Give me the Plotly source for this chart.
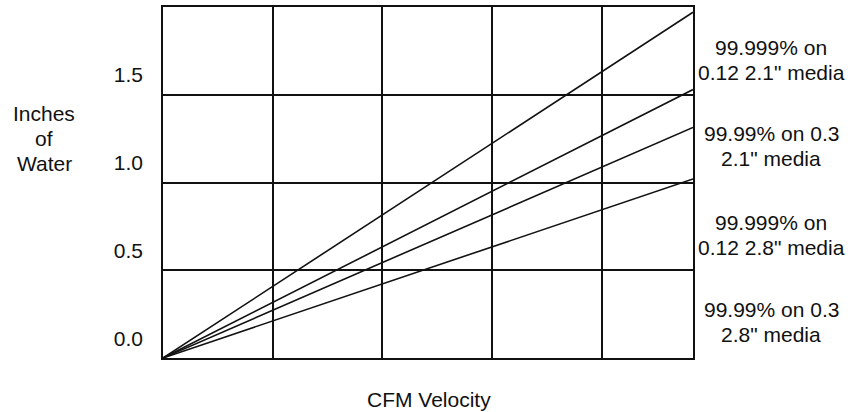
import plotly.graph_objects as go

# Data (x in grid cells; y in units where each grid cell = 0.5)
velocity = [0, 4.83]
series_lines = [
    ['99.999% on', '0.12 2.1" media'],
    ['99.99% on 0.3', '2.1" media'],
    ['99.999% on', '0.12 2.8" media'],
    ['99.99% on 0.3', '2.8" media'],
]
pressure = [
    [0, 1.97],
    [0, 1.53],
    [0, 1.314],
    [0, 1.02],
]
label_y = [1.70, 1.207, 0.70, 0.207]
ytick_vals = [0.0, 0.5, 1.0, 1.5]
ytick_text = ["0.0", "0.5", "1.0", "1.5"]
ylabel_lines = ["Inches", "of", "Water"]
xlabel = "CFM Velocity"

FONT = "Liberation Sans, Arial, sans-serif"
INK = "#111111"
FS = 21

fig = go.Figure()
for vals in pressure:
    fig.add_trace(go.Scatter(x=velocity, y=vals, mode="lines",
                             line=dict(color=INK, width=1.6),
                             showlegend=False, hoverinfo="skip"))

# invisible trace for the label axis
fig.add_trace(go.Scatter(x=[0], y=[0], yaxis="y2", mode="markers",
                         marker=dict(opacity=0), showlegend=False, hoverinfo="skip"))

for lines, ly in zip(series_lines, label_y):
    for i, t in enumerate(lines):
        fig.add_annotation(x=1.0, xref="paper", y=ly, yref="y", xshift=78,
                           yshift=12.5 - 25 * i,
                           text=t, showarrow=False, xanchor="center", yanchor="middle",
                           font=dict(family=FONT, size=FS, color=INK))

for i, t in enumerate(ylabel_lines):
    fig.add_annotation(x=0, xref="paper", y=1.252, yref="y", xshift=-119,
                       yshift=25 - 25 * i,
                       text=t, showarrow=False, xanchor="center", yanchor="middle",
                       font=dict(family=FONT, size=FS, color=INK))

fig.add_annotation(x=0, xref="paper", y=0, yref="paper", xshift=265.5, yshift=-41,
                   text=xlabel, showarrow=False,
                   xanchor="center", yanchor="middle",
                   font=dict(family=FONT, size=FS, color=INK))

fig.update_layout(
    width=859, height=412,
    margin=dict(l=163, r=166, t=5, b=54),
    paper_bgcolor="white", plot_bgcolor="white",
    xaxis=dict(range=[0, 4.83], dtick=1, tick0=0, showgrid=True,
               gridcolor=INK, gridwidth=1.5, zeroline=False,
               showline=True, linecolor=INK, linewidth=1.7, mirror=True,
               showticklabels=False, ticks=""),
    yaxis=dict(range=[0, 2.0], dtick=0.5, tick0=0, showgrid=True,
               gridcolor=INK, gridwidth=1.5, zeroline=False,
               showline=True, linecolor=INK, linewidth=1.7, mirror=True,
               showticklabels=False, ticks=""),
    yaxis2=dict(overlaying="y", side="left", range=[-0.113, 1.887],
                tickvals=ytick_vals, ticktext=ytick_text, showgrid=False,
                zeroline=False, showline=False, ticks="",
                ticklabelstandoff=19,
                tickfont=dict(family=FONT, size=FS, color=INK)),
)

fig.write_html("out.html", config={"displayModeBar": False},
               post_script="document.body.style.margin='0';")
